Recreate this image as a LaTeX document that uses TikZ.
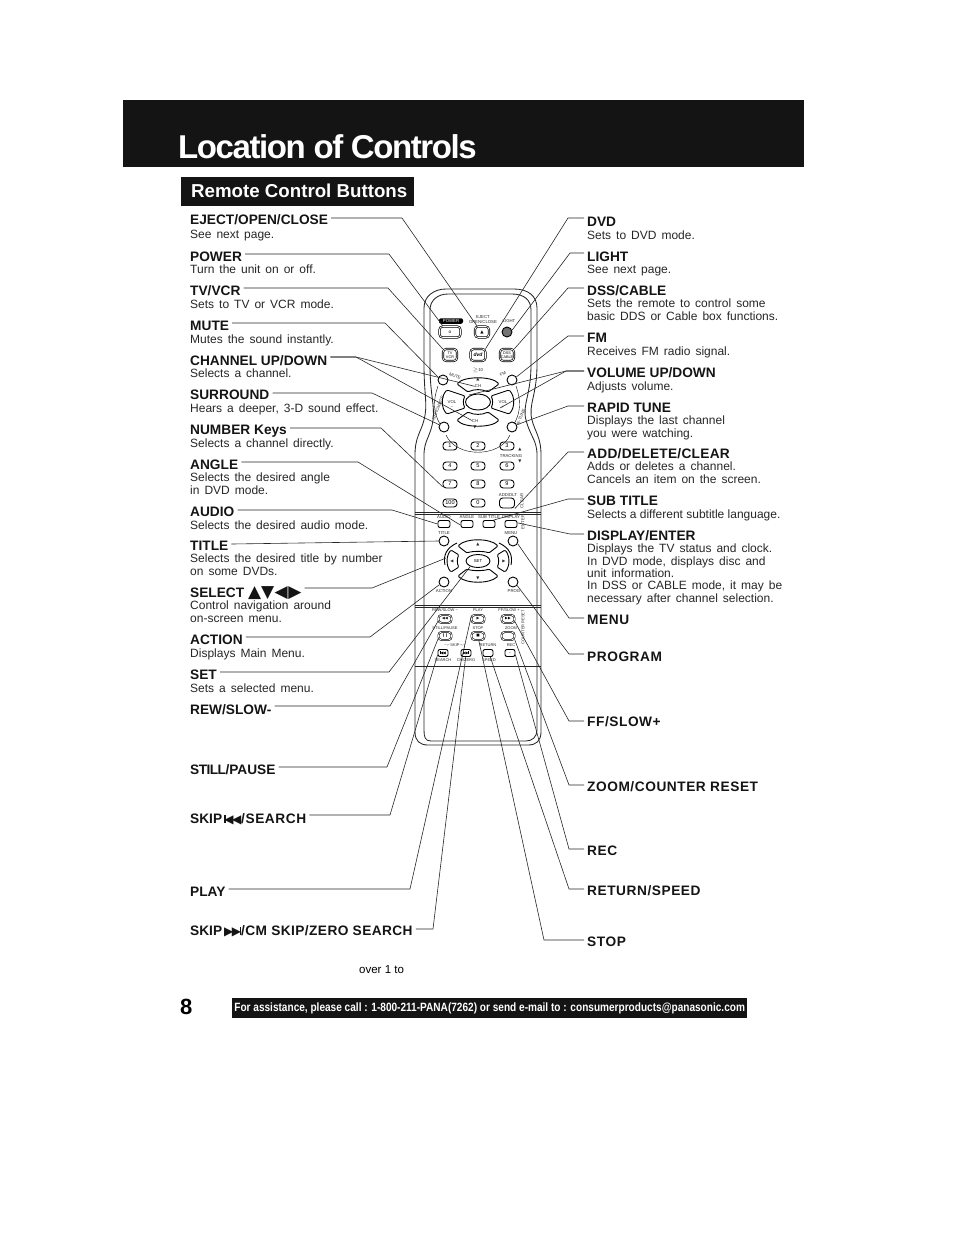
\documentclass[tikz,border=0pt]{standalone}
\usepackage{fontspec}
\usetikzlibrary{positioning,shapes.geometric,calc}
\setmainfont{Liberation Sans}
\newfontfamily\symfont{DejaVu Sans}
\newfontfamily\barfont[FakeStretch=0.84]{Liberation Sans Bold}
\newcommand\rmt{\fontsize{4.3}{5}\selectfont}
\newcommand\wide{\addfontfeature{LetterSpace=4}}
\newcommand\wsp{\spaceskip=5pt\relax}
\newcommand\nsp{\spaceskip=0pt\relax}
\newcommand\skb{{\symfont\fontsize{12}{12}\selectfont\rule{1.4pt}{8pt}\kern-1.2pt ◀\kern-1.6pt ◀}}
\newcommand\skf{{\symfont\fontsize{12}{12}\selectfont ▶\kern-1.6pt ▶\kern-1.2pt\rule{1.4pt}{8pt}}}

\begin{document}
\begin{tikzpicture}[
        x=1pt, y=-1pt,
        ttl/.style  ={inner sep=0pt, anchor=base west, font=\fontsize{13.7}{15}\selectfont\bfseries, text=black!92},
        desc/.style ={inner sep=0pt, anchor=base west, align=left, font=\fontsize{12}{12.3}\selectfont, execute at begin node=\wsp, text=black!85},
        lead/.style ={line width=.6pt, black!85},
        outl/.style ={line width=.85pt, black!85},
        btn/.style  ={draw, line width=.9pt, rounded corners=3.2pt, inner sep=0pt, minimum width=16pt, minimum height=9pt, font=\rmt},
        bbtn/.style ={btn, line width=.7pt, double, double distance=.7pt},
        kbtn/.style ={btn, minimum width=14pt, minimum height=8pt, font=\fontsize{5.6}{6}\selectfont},
        sbtn/.style ={btn, minimum width=12pt, minimum height=7pt, rounded corners=2pt},
        rbtn/.style ={circle, draw, line width=.9pt, inner sep=0pt, minimum size=10pt},
        rmk/.style  ={inner sep=0pt, font=\rmt, text=black!85},
        pad/.style  ={draw, line width=.9pt, rounded corners=1.2pt},
    ]
    \useasboundingbox (0,0) rectangle (954,1235);

    % ===================== Header =====================
    \fill[black!92] (123,100) rectangle (804,167);
    \node[inner sep=0pt, anchor=base west, text=white, font=\fontsize{33}{36}\selectfont\bfseries\addfontfeature{LetterSpace=-4.3}] (head) at (178,158) {Location of Controls};
    \fill[black!92] (181,177) rectangle (414,206);
    \node[inner sep=0pt, anchor=base west, text=white, font=\fontsize{18.7}{21}\selectfont\bfseries] (sub) at (191,197) {Remote Control Buttons};

    % ===================== Left labels =====================
    \foreach \n/\y/\t in {eject/224/{EJECT/OPEN/CLOSE},power/261/POWER,tv/295/{TV/VCR},mute/330/MUTE,
        chan/365/{CHANNEL UP/DOWN},surr/399/SURROUND,num/434/{NUMBER Keys},angle/469/ANGLE,audio/516/AUDIO,
        title/550/TITLE,select/597/{SELECT {\symfont\fontsize{17}{17}\selectfont ▲▼\kern.5pt◀\kern.5pt▶}},action/644/ACTION,set/679/SET,
        rew/714/{REW/SLOW-},still/774/{{\addfontfeature{LetterSpace=-4}STILL/}PAUSE},skipb/823/{SKIP\kern2pt\skb{\wide/SEARCH}},play/896/PLAY,
        skipf/935/{SKIP\kern2pt\skf{\addfontfeature{LetterSpace=3}/CM SKIP/ZERO SEARCH}}}{
        \node[ttl] (lbl\n) at (190,\y) {\t};
    }
    \foreach \n/\y/\t in {eject/238/{See next page.},power/273/{Turn the unit on or off.},tv/308/{Sets to TV or VCR mode.},
        mute/343/{Mutes the sound instantly.},chan/377/{Selects a channel.},surr/412/{Hears a deeper, 3-D sound effect.},
        num/447/{Selects a channel directly.},angle/494/{Selects the desired angle\\in DVD mode.},audio/529/{Selects the desired audio mode.},
        title/575/{Selects the desired title by number\\on some DVDs.},select/622/{Control navigation around\\on-screen menu.},
        action/657/{Displays Main Menu.},set/692/{Sets a selected menu.}}{
        \node[desc] (txt\n) at (190,\y) {\t};
    }

    % ===================== Right labels =====================
    \foreach \n/\y/\t in {dvd/226/DVD,light/261/LIGHT,dss/295/{DSS/CABLE},fm/342/FM,vol/377/{VOLUME UP/DOWN},rtune/412/{RAPID TUNE},
        add/458/{{\addfontfeature{LetterSpace=2}ADD/DELETE/CLEAR}},subt/505/{SUB TITLE},disp/540/{DISPLAY/ENTER},menu/624/{\wide MENU},prog/661/{\wide PROGRAM},
        ff/726/{\wide FF/SLOW+},zoom/791/{\wide ZOOM/COUNTER RESET},rec/855/{\wide REC},ret/895/{\wide RETURN/SPEED},stop/946/{\wide STOP}}{
        \node[ttl] (lbl\n) at (587,\y) {\t};
    }
    \foreach \n/\y/\t in {dvd/239/{Sets to DVD mode.},light/273/{See next page.},dss/320/{Sets the remote to control some\\basic DDS or Cable box functions.},
        fm/355/{Receives FM radio signal.},vol/390/{Adjusts volume.},rtune/437/{Displays the last channel\\you were watching.},
        add/483/{Adds or deletes a channel.\\Cancels an item on the screen.},subt/518/{\nsp Selects a different subtitle language.},
        disp/602/{Displays the TV status and clock.\\In DVD mode, displays disc and\\unit information.\\In DSS or CABLE mode, it may be\\necessary after channel selection.}}{
        \node[desc] (txt\n) at (587,\y) {\t};
    }

    % ===================== Remote body =====================
    \draw[outl] (424,308) .. controls (424,296) and (434,289) .. (446,289) -- (514,289) .. controls (528,289) and (537,296) .. (537,308)
        -- (537,365) .. controls (537,395) and (528,405) .. (532,420) .. controls (535,432) and (541,437) .. (541,455)
        -- (541,732) .. controls (541,741) and (536,745) .. (528,745) -- (428,745) .. controls (420,745) and (415,741) .. (415,732)
        -- (415,455) .. controls (415,437) and (421,432) .. (424,420) .. controls (428,405) and (424,395) .. (424,365) -- cycle;
    \draw[outl] (430,310) .. controls (430,300) and (438,294) .. (448,294) -- (512,294) .. controls (524,294) and (531,300) .. (531,310)
        -- (531,365) .. controls (531,395) and (522,405) .. (526,420) .. controls (530,436) and (537,440) .. (537,455)
        -- (537,730) .. controls (537,737) and (532,741) .. (526,741) -- (431,741) .. controls (425,741) and (424,737) .. (424,730)
        -- (424,455) .. controls (424,440) and (431,436) .. (433,420) .. controls (435,405) and (430,395) .. (430,365) -- cycle;
    \draw[outl] (415,512) -- (541,512) (415,514.5) -- (541,514.5) (415,605) -- (541,605) (415,607.5) -- (541,607.5)
        (415,666) -- (541,666);

    % top buttons
    \node[rmk, fill=black, text=white, rounded corners=2pt, minimum width=24pt, minimum height=5.5pt] (markpower) at (451,321) {POWER};
    \node[bbtn, minimum width=21pt, minimum height=11pt] (power) at (450,332) {\symfont o};
    \node[rmk, align=center] (markeject) at (483,319.5) {EJECT\\OPEN/CLOSE};
    \node[bbtn, minimum width=14pt, minimum height=11pt] (eject) at (482,332) {\symfont ▲};
    \node[rmk] (marklight) at (509,321) {LIGHT};
    \node[rbtn, fill=black!55] (light) at (507,332) {};
    \node[bbtn, minimum width=14pt, minimum height=12pt, align=center, font=\fontsize{3.8}{4}\selectfont] (tv) at (450,355) {TV\\VCR};
    \node[bbtn, minimum width=15pt, minimum height=12pt, font=\fontsize{5}{5}\selectfont\bfseries\itshape] (dvd) at (478,355) {dvd};
    \node[bbtn, minimum width=14pt, minimum height=12pt, align=center, font=\fontsize{3.8}{4}\selectfont] (dss) at (507,355) {DSS\\CABLE};

    % ===================== Direction pad =====================
    \draw (438,386) .. controls (433,400) and (433,412) .. (440,424);
    \draw (516,386) .. controls (521,400) and (521,412) .. (514,424);
    \draw (446,435) .. controls (456,458) and (500,458) .. (510,435);
    \node[rbtn] (mute) at (443,380) {};
    \node[rbtn] (fm) at (512,380) {};
    \node[rbtn] (surr) at (444,427) {};
    \node[rbtn] (rtune) at (512,427) {};
    \node[rmk, rotate=-22] (markmute) at (455,376) {MUTE};
    \node[rmk, rotate=28] (markfm) at (503,374) {FM};
    \node[rmk, rotate=-112] (marksurr) at (438,408) {SURROUND};
    \node[rmk, rotate=68] (markrtune) at (521,417) {R-TUNE};
    \node[rmk] (mark10) at (478,370) {$\geq$10};
    \node[draw, ellipse, line width=.9pt, minimum width=25pt, minimum height=16pt] (okpad) at (478,402) {};
    \draw[pad] (457,384) .. controls (464,376) and (492,376) .. (499,384) -- (488,392) .. controls (482,389) and (474,389) .. (468,392) -- cycle;
    \draw[pad] (457,420) .. controls (464,428) and (492,428) .. (499,420) -- (488,412) .. controls (482,415) and (474,415) .. (468,412) -- cycle;
    \draw[pad] (447,390) .. controls (441,396) and (441,408) .. (447,414) -- (465,408) .. controls (463,404) and (463,400) .. (465,396) -- cycle;
    \draw[pad] (509,390) .. controls (515,396) and (515,408) .. (509,414) -- (491,408) .. controls (493,404) and (493,400) .. (491,396) -- cycle;
    \node[rmk] (chup) at (478,386) {CH};
    \node[rmk] (chdn) at (475,421) {CH};
    \node[rmk, align=center] (volm) at (452,404) {VOL\\−};
    \node[rmk, align=center] (volp) at (503,404) {VOL\\+};
    \node[rmk, font=\symfont\fontsize{4}{4}\selectfont] (upmark) at (478,379) {▲};
    \node[rmk, font=\symfont\fontsize{4}{4}\selectfont] (dnmark) at (475,427) {▼};
    \coordinate (volminus) at (469,395);
    \coordinate (volplus) at (500,408);

    % ===================== Number keys =====================
    \foreach \n/\x/\y/\t in {k1/450/446/1,k2/478/446/2,k3/507/446/3,k4/450/466/4,k5/478/466/5,k6/507/466/6,
        k7/450/484/7,k8/478/484/8,k9/507/484/9,k100/450/503/100,k0/478/503/0}{
        \node[kbtn] (\n) at (\x,\y) {\t};
    }
    \node[kbtn, minimum width=15pt, minimum height=10pt] (adddlt) at (507,503) {};
    \node[rmk] (markadd) at (508,495) {ADD/DLT};
    \node[rmk] (marktrack) at (511,456) {TRACKING};
    \node[rmk, rotate=90] (markclear) at (522,501) {CLEAR};
    \node[rmk, font=\symfont\fontsize{4}{4}\selectfont] (trup) at (520,449) {▲};
    \node[rmk, font=\symfont\fontsize{4}{4}\selectfont] (trdn) at (520,461) {▼};

    % ===================== Menu panel =====================
    \foreach \n/\x/\t in {audio/444/AUDIO,angle/467/ANGLE,subt/489/{SUB TITLE},disp/511/DISPLAY}{
        \node[sbtn] (\n) at (\x,524) {};
        \node[rmk] (mark\n) at (\x,517) {\t};
    }
    \node[rmk, rotate=90] (markenter) at (523,522) {ENTER};
    \node[rbtn] (title) at (444,541) {};
    \node[rbtn] (menu) at (513,541) {};
    \node[rbtn] (action) at (444,582) {};
    \node[rbtn] (prog) at (513,582) {};
    \node[rmk] (marktitle) at (444,533) {TITLE};
    \node[rmk] (markmenu) at (511,533) {MENU};
    \node[rmk] (markaction) at (444,591) {ACTION};
    \node[rmk] (markprog) at (514,591) {PROG};
    \node[draw, ellipse, line width=.9pt, minimum width=24pt, minimum height=13pt, inner sep=0pt, font=\rmt] (setb) at (478,561) {SET};
    \draw[pad] (458,546) .. controls (466,538) and (490,538) .. (498,546) -- (489,553) .. controls (484,551) and (472,551) .. (467,553) -- cycle;
    \draw[pad] (458,576) .. controls (466,584) and (490,584) .. (498,576) -- (489,569) .. controls (484,571) and (472,571) .. (467,569) -- cycle;
    \draw[pad] (451,550) .. controls (446,556) and (446,566) .. (451,572) -- (459,567) .. controls (457,564) and (457,558) .. (459,555) -- cycle;
    \draw[pad] (505,550) .. controls (510,556) and (510,566) .. (505,572) -- (497,567) .. controls (499,564) and (499,558) .. (497,555) -- cycle;
    \draw[line width=.9pt] (457,543) .. controls (446,548) and (443,556) .. (445,565);
    \draw[line width=.9pt] (499,543) .. controls (510,548) and (513,556) .. (511,565);
    \node[rmk, font=\symfont\fontsize{4}{4}\selectfont] (navup) at (478,544) {▲};
    \node[rmk, font=\symfont\fontsize{4}{4}\selectfont] (navdn) at (478,578) {▼};
    \node[rmk, font=\symfont\fontsize{4}{4}\selectfont] (navlf) at (452,561) {◀};
    \node[rmk, font=\symfont\fontsize{4}{4}\selectfont] (navrt) at (504,561) {▶};
    \coordinate (leftpad) at (446,558);

    % ===================== Transport panel =====================
    \foreach \n/\x/\y/\t in {rew/445/619/◀◀,play/478/619/▶,ff/508/619/▶▶,still/445/636/{\kern.2pt❙❙},stopb/478/636/■,zoom/508/636/{}}{
        \node[bbtn, line width=.6pt, minimum width=13pt, minimum height=8pt, font=\symfont\fontsize{3.6}{4}\selectfont] (\n) at (\x,\y) {\t};
    }
    \foreach \n/\x/\t in {skipb/443/{\skb},skipf/466/{\skf},ret/488/{},rec/510/{●}}{
        \node[sbtn, minimum width=10pt, minimum height=7pt, font=\symfont\fontsize{3}{3}\selectfont] (\n) at (\x,653) {\scalebox{.33}{\t}};
    }
    \foreach \n/\x/\y/\t in {rew/445/610.5/{REW/SLOW −},play/478/610.5/PLAY,ff/509/610.5/{FF/SLOW +},still/445/628/{STILL/PAUSE},
        stopb/478/628/STOP,zoom/511/628/ZOOM,skip/455/645.5/{−\,⌐\,SKIP\,¬\,+},ret/488/645.5/RETURN,rec/511/645.5/REC,
        search/443/660.5/SEARCH,cmzero/466/660.5/{CM/ZERO},speed/489/660.5/SPEED}{
        \node[rmk, font=\fontsize{4}{4}\selectfont] (mark\n) at (\x,\y) {\t};
    }
    \node[rmk, rotate=90, font=\fontsize{4}{4}\selectfont] (markreset) at (523,627) {COUNTER RESET};

    % ===================== Left leaders =====================
    \foreach \n/\ex/\ey/\t in {eject/402/218/eject.130,power/389/254/power.140,tv/388/288/tv.140,mute/385/323/mute.150,
        chan/356/357/chup.185,chan/356/357/chdn.170,surr/372/393/surr.155,num/381/428/k7.200,angle/358/462/angle.190,
        audio/392/510/audio.west,title/232/544/title.west,select/372/588/leftpad,action/370/637/action.210,
        set/389/672/setb.215,rew/390/706/rew.195,still/387/767/still.200,skipb/390/815/skipb.200,play/410/889/play.160,skipf/433/929/skipf.265}{
        \coordinate (e\n) at (\ex,\ey);
        \draw[lead] ([xshift=3pt]lbl\n.east |- e\n) -- (e\n) -- (\t);
    }

    % ===================== Right leaders =====================
    \foreach \n/\ex/\ey/\t in {dvd/568/218/dvd.40,light/570/253/light.20,dss/568/288/dss.40,fm/568/336/fm.35,vol/566/371/volminus,
        vol/566/371/volplus,rtune/568/406/rtune.25,add/568/452/adddlt.south east,subt/568/499/subt.40,disp/570/534/disp.10,
        menu/569/618/menu.-30,prog/569/654/prog.-40,ff/569/721/ff.-20,zoom/569/785/zoom.-30,rec/569/849/rec.-20,
        ret/569/889/ret.-60,stop/544/940/stopb.-80}{
        \coordinate (e\n) at (\ex,\ey);
        \draw[lead] ([xshift=-3pt]lbl\n.west |- e\n) -- (e\n) -- (\t);
    }

    % ===================== Footer =====================
    \node[inner sep=0pt, anchor=base west, font=\fontsize{22}{24}\selectfont\bfseries] (pagenum) at (180,1014) {8};
    \node[inner sep=0pt, anchor=base west, font=\fontsize{11.5}{12}\selectfont] (over) at (359,973) {over 1 to};
    \node[fill=black!92, text=white, anchor=north west, inner sep=0pt, minimum width=515pt, minimum height=20pt,
        font=\barfont\fontsize{12}{12}\selectfont] (helpbar) at (232,998)
        {For assistance, please call : 1-800-211-PANA(7262) or send e-mail to : consumerproducts@panasonic.com};
\end{tikzpicture}
\end{document}
